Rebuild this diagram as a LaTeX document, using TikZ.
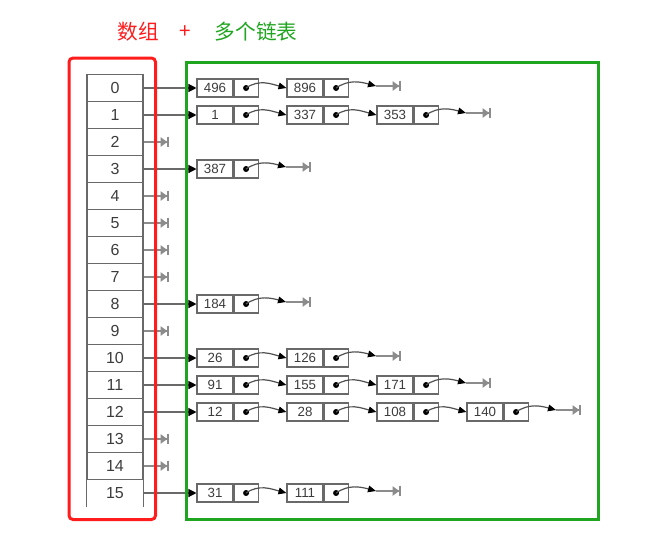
\documentclass[tikz,border=0pt]{standalone}
\usepackage{fontspec}
\setmainfont{Liberation Sans}
\newfontfamily\cjk{Noto Sans CJK SC}
\usetikzlibrary{arrows.meta}
\definecolor{myred}{RGB}{255,28,28}
\definecolor{mygreen}{RGB}{32,165,32}
\definecolor{ln}{RGB}{105,105,105}
\definecolor{cl}{RGB}{80,80,80}
\definecolor{tx}{RGB}{60,60,60}
\definecolor{nl}{RGB}{140,140,140}
\begin{document}
\begin{tikzpicture}[x=0.75pt,y=-0.75pt,
  cell/.style={draw=ln,line width=1.1pt,minimum width=42pt,minimum height=20.25pt,inner sep=0pt,
    font=\fontsize{12}{14}\selectfont,text=tx},
  valbox/.style={draw=ln,line width=0.8pt,minimum width=27pt,minimum height=13.5pt,inner sep=0pt,
    font=\fontsize{10}{12}\selectfont,text=tx},
  ptrbox/.style={draw=ln,line width=0.8pt,minimum width=18pt,minimum height=13.5pt,inner sep=0pt,anchor=west},
  headptr/.style={draw=ln,line width=0.9pt,-{Triangle[length=6pt,width=6pt,color=black]}},
  nextptr/.style={draw=cl,line width=0.9pt,-{Triangle[length=6pt,width=5pt,color=black]}},
  nullptr/.style={draw=nl,line width=1pt,-{Triangle[length=5pt,width=7pt,sep=0pt]Bar[width=8pt,line width=1.3pt]}},
  title/.style={font=\cjk\fontsize{15.5}{18}\selectfont}
]
\useasboundingbox (0,0) rectangle (670,554);

% title
\node[title,text=myred] (t1) at (138,32) {数组};
\node[title,text=myred] (t2) at (185,32) {+};
\node[title,text=mygreen] (t3) at (256,32) {多个链表};

% array
\foreach \i in {0,...,14} {
  \node[cell] (a\i) at (115,{88+27*\i}) {\i};
}
\node[cell,draw=none] (a15) at (115,{88+27*15}) {15};
\draw[ln,line width=1.1pt] (a15.north west) -- (a15.south west);
\draw[ln,line width=1.1pt] (a15.north east) -- (a15.south east);

% null entries of the array
\foreach \i in {2,4,5,6,7,9,13,14} {
  \coordinate (n\i) at (169,{88+27*\i});
  \draw[nullptr] (a\i.east) -- (n\i);
}

% linked lists
\foreach \r/\n/\vals in {0/2/{496,896},1/3/{1,337,353},3/1/{387},8/1/{184},
    10/2/{26,126},11/3/{91,155,171},12/4/{12,28,108,140},15/2/{31,111}} {
  \foreach \v [count=\k] in \vals {
    \node[valbox] (v-\r-\k) at ({215+90*(\k-1)},{88+27*\r}) {\v};
    \node[ptrbox] (p-\r-\k) at (v-\r-\k.east) {};
    \fill[black] (p-\r-\k.center) circle (3);
    \ifnum\k>1
      \pgfmathtruncatemacro\pk{\k-1}
      \draw[nextptr] (p-\r-\pk.center) to[out=35,in=165] (v-\r-\k.west);
    \fi
  }
  \draw[headptr] (a\r.east) -- (v-\r-1.west);
  \coordinate (e\r) at ({257+90*(\n-1)+29},{86+27*\r});
  \coordinate (z\r) at ({257+90*(\n-1)+54},{86+27*\r});
  \draw[nextptr] (p-\r-\n.center) to[out=35,in=165] (e\r);
  \draw[nullptr] (e\r) -- (z\r);
}

% frames
\draw[myred,line width=2.25pt,rounded corners=3pt] (69,58) rectangle (155.5,519.5);
\draw[mygreen,line width=2.25pt] (186,62.5) rectangle (598,519.5);
\end{tikzpicture}
\end{document}
